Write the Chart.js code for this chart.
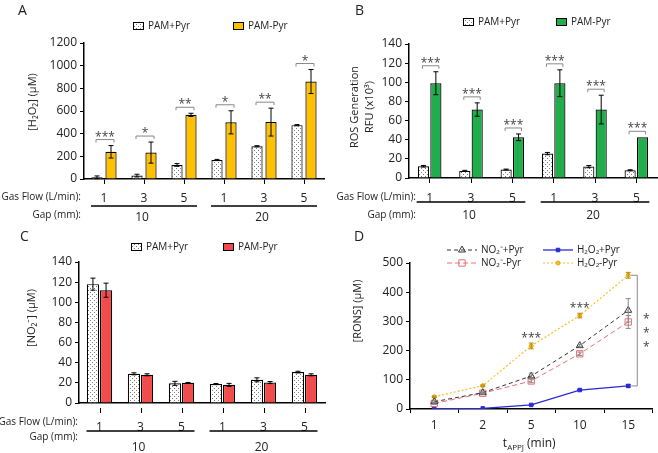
<!DOCTYPE html>
<html>
<head>
<meta charset="utf-8">
<script src="https://cdn.jsdelivr.net/npm/chart.js@4.4.0/dist/chart.umd.min.js"></script>
<style>
  html, body { margin: 0; padding: 0; background: #fff; }
  #wrap { position: relative; width: 658px; height: 453px; }
  canvas { position: absolute; }
  .tag { position: absolute; font: 14px 'Open Sans', sans-serif; color: #222; }
</style>
</head>
<body>
<div id="wrap">
  <canvas id="chartA" width="329" height="226" style="left:0;top:0"></canvas>
  <canvas id="chartB" width="329" height="226" style="left:329px;top:0"></canvas>
  <canvas id="chartC" width="329" height="227" style="left:0;top:226px"></canvas>
  <canvas id="chartD" width="329" height="227" style="left:329px;top:226px"></canvas>
  <div class="tag" style="left:18px;top:0">A</div>
  <div class="tag" style="left:355px;top:0">B</div>
  <div class="tag" style="left:20px;top:226px">C</div>
  <div class="tag" style="left:354px;top:226px">D</div>
</div>
<script>
// ---------------- DATA ----------------
const flowLabels = ["1", "3", "5", "1", "3", "5"];
const gapLabels = ["10", "20"];

// A: H2O2 (uM)
const h2o2WithPyr = [15, 30, 124, 168, 289, 475];
const h2o2WithPyrErr = [12, 12, 12, 5, 5, 5];
const h2o2NoPyr = [240, 233, 566, 500, 502, 860];
const h2o2NoPyrErr = [55, 93, 14, 102, 123, 106];
const h2o2Stars = ["***", "*", "**", "*", "**", "*"];

// B: ROS generation RFU (x10^3)
const rosWithPyr = [12.3, 7.4, 8.8, 25.5, 11.9, 8.1];
const rosWithPyrErr = [0.8, 0.6, 0.5, 1.2, 1.2, 0.5];
const rosNoPyr = [99, 71.5, 42.5, 99, 71.5, 42.5];
const rosNoPyrErr = [12, 7, 3.5, 14, 15, 0];
const rosStars = ["***", "***", "***", "***", "***", "***"];

// C: NO2- (uM)
const no2WithPyr = [118, 29, 19.5, 18.8, 23, 30.7];
const no2WithPyrErr = [6, 1, 2, 0.5, 2, 0.8];
const no2NoPyr = [112, 28, 20, 18, 20.3, 28];
const no2NoPyrErr = [7, 1, 0.4, 1.5, 1, 1];

// D: RONS vs treatment time
const timeLabels = ["1", "2", "5", "10", "15"];
const no2PlusPyrT = [25, 56, 113, 217, 338];
const no2PlusPyrTErr = [3, 3, 10, 4, 40];
const no2MinusPyrT = [19, 54, 96, 189, 298];
const no2MinusPyrTErr = [3, 3, 6, 6, 22];
const h2o2PlusPyrT = [1, 2, 14, 65, 79];
const h2o2PlusPyrTErr = [0, 0, 1, 2, 4];
const h2o2MinusPyrT = [42, 80, 216, 320, 458];
const h2o2MinusPyrTErr = [2, 2, 10, 8, 10];
const timeStars = ["", "", "***", "***", ""];

// ---------------- STYLE ----------------
const FONT = "'Open Sans', sans-serif";
const TEXT = "#222";
Chart.defaults.font.family = FONT;
Chart.defaults.color = TEXT;

function dotPattern() {
  const c = document.createElement("canvas");
  c.width = 4; c.height = 4;
  const g = c.getContext("2d");
  g.fillStyle = "#fff";
  g.fillRect(0, 0, 4, 4);
  g.fillStyle = "#7a7a7a";
  g.fillRect(0, 0, 1, 1);
  g.fillRect(2, 2, 1, 1);
  return g.createPattern(c, "repeat");
}
const dots = dotPattern();
const plainTick = (v) => String(v);

// ---------------- PLUGINS ----------------
const errorBars = {
  id: "errorBars",
  afterDatasetsDraw(chart) {
    const ctx = chart.ctx, y = chart.scales.y;
    chart.data.datasets.forEach((ds, i) => {
      if (!ds.errors) return;
      chart.getDatasetMeta(i).data.forEach((el, j) => {
        const e = ds.errors[j];
        if (!e) return;
        const top = y.getPixelForValue(ds.data[j] + e);
        const bot = y.getPixelForValue(ds.data[j] - e);
        ctx.save();
        ctx.strokeStyle = ds.errorColor || "#000";
        ctx.lineWidth = 1;
        ctx.beginPath();
        ctx.moveTo(el.x, top); ctx.lineTo(el.x, bot);
        ctx.moveTo(el.x - 2.5, top); ctx.lineTo(el.x + 2.5, top);
        ctx.moveTo(el.x - 2.5, bot); ctx.lineTo(el.x + 2.5, bot);
        ctx.stroke();
        ctx.restore();
      });
    });
  }
};

// brackets with stars between the two bars of a group
const sigBrackets = {
  id: "sigBrackets",
  afterDatasetsDraw(chart, args, opts) {
    if (!opts.labels) return;
    const ctx = chart.ctx, y = chart.scales.y;
    const [d0, d1] = chart.data.datasets;
    const m0 = chart.getDatasetMeta(0).data, m1 = chart.getDatasetMeta(1).data;
    opts.labels.forEach((lab, j) => {
      const top = Math.min(
        y.getPixelForValue(d0.data[j] + (d0.errors[j] || 0)),
        y.getPixelForValue(d1.data[j] + (d1.errors[j] || 0))
      );
      const by = top - 6;
      const x0 = m0[j].x - 1, x1 = m1[j].x + 3;
      ctx.save();
      ctx.strokeStyle = "#888";
      ctx.lineWidth = 1;
      ctx.beginPath();
      ctx.moveTo(x0, by + 3); ctx.lineTo(x0, by); ctx.lineTo(x1, by); ctx.lineTo(x1, by + 3);
      ctx.stroke();
      ctx.fillStyle = "#444";
      ctx.font = "12px " + FONT;
      ctx.textAlign = "center";
      ctx.textBaseline = "alphabetic";
      ctx.fillText(lab, (x0 + x1) / 2, by + 1);
      ctx.restore();
    });
  }
};

// legend with filled boxes for the bar panels
const boxLegend = {
  id: "boxLegend",
  afterDraw(chart, args, opts) {
    if (!opts.at) return;
    const ctx = chart.ctx;
    ctx.save();
    ctx.font = "10px " + FONT;
    ctx.textBaseline = "middle";
    chart.data.datasets.forEach((ds, i) => {
      const bx = opts.at[i], by = opts.y;
      ctx.fillStyle = ds.backgroundColor;
      ctx.fillRect(bx, by - 4, 11, 8);
      ctx.strokeStyle = "#000";
      ctx.lineWidth = 1;
      ctx.strokeRect(bx + 0.5, by - 3.5, 10, 7);
      ctx.fillStyle = TEXT;
      ctx.fillText(ds.label, bx + 15, by);
    });
    ctx.restore();
  }
};

// rotated y-axis title(s)
const yTitle = {
  id: "yTitle",
  afterDraw(chart, args, opts) {
    if (!opts.lines) return;
    const ctx = chart.ctx;
    ctx.save();
    ctx.font = "11px " + FONT;
    ctx.fillStyle = TEXT;
    ctx.textAlign = "center";
    ctx.textBaseline = "middle";
    opts.lines.forEach((t, k) => {
      ctx.save();
      ctx.translate(opts.x[k], opts.y);
      ctx.rotate(-Math.PI / 2);
      ctx.fillText(t, 0, 0);
      ctx.restore();
    });
    ctx.restore();
  }
};

// "Gas Flow" / "Gap" rows below the bar axes
const groupAxis = {
  id: "groupAxis",
  afterDraw(chart, args, o) {
    if (!o.flowY) return;
    const ctx = chart.ctx, x = chart.scales.x;
    ctx.save();
    ctx.fillStyle = TEXT;
    ctx.textBaseline = "middle";
    ctx.textAlign = "right";
    ctx.font = "10px " + FONT;
    ctx.fillText("Gas Flow (L/min):", o.right, o.flowY);
    ctx.fillText("Gap (mm):", o.right, o.gapY);
    ctx.font = "12px " + FONT;
    ctx.textAlign = "center";
    ctx.strokeStyle = "#000";
    ctx.lineWidth = 1.5;
    gapLabels.forEach((g, k) => {
      const a = x.getPixelForValue(k * 3) - 13;
      const b = x.getPixelForValue(k * 3 + 2) + 13;
      ctx.beginPath();
      ctx.moveTo(a, o.lineY); ctx.lineTo(b, o.lineY);
      ctx.stroke();
      ctx.fillText(g, x.getPixelForValue(k * 3 + 1) - 2, o.gapValY);
    });
    if (o.marks) {
      ctx.lineWidth = 1;
      flowLabels.forEach((f, j) => {
        const px = Math.round(x.getPixelForValue(j)) + 0.5;
        ctx.beginPath();
        ctx.moveTo(px, chart.chartArea.bottom + 5);
        ctx.lineTo(px, chart.chartArea.bottom + 10);
        ctx.stroke();
      });
    }
    ctx.restore();
  }
};

function barChart(id, c) {
  return new Chart(document.getElementById(id), {
    type: "bar",
    data: {
      labels: flowLabels,
      datasets: [
        { label: "PAM+Pyr", data: c.withPyr, errors: c.withPyrErr, backgroundColor: dots,
          borderColor: "#000", borderWidth: 1.2, categoryPercentage: c.cat, barPercentage: c.bar },
        { label: "PAM-Pyr", data: c.noPyr, errors: c.noPyrErr, backgroundColor: c.color,
          borderColor: "#000", borderWidth: 1.2, categoryPercentage: c.cat, barPercentage: c.bar }
      ]
    },
    options: {
      responsive: false,
      animation: false,
      layout: { padding: { top: c.top, right: c.padRight, bottom: 0, left: 0 } },
      plugins: {
        legend: { display: false },
        tooltip: { enabled: false },
        boxLegend: { at: c.legendAt, y: c.legendY },
        sigBrackets: { labels: c.stars },
        yTitle: c.title,
        groupAxis: c.group
      },
      scales: {
        x: {
          afterFit: (s) => { s.height = c.xHeight; },
          grid: { display: !c.group.marks, drawOnChartArea: false, offset: false, color: "#000", tickLength: 5 },
          border: { color: "#000", width: 1.5 },
          ticks: { font: { size: 12 }, padding: c.xPad, color: TEXT }
        },
        y: {
          min: 0, max: c.max,
          afterFit: (s) => { s.width = c.yWidth; },
          grid: { drawOnChartArea: false, color: "#000", tickLength: 4 },
          border: { color: "#000", width: 1.5 },
          ticks: { stepSize: c.step, font: { size: 12 }, padding: 3, color: TEXT, callback: plainTick }
        }
      }
    },
    plugins: [errorBars, sigBrackets, boxLegend, yTitle, groupAxis]
  });
}

barChart("chartA", {
  withPyr: h2o2WithPyr, withPyrErr: h2o2WithPyrErr, noPyr: h2o2NoPyr, noPyrErr: h2o2NoPyrErr,
  color: "#FFC000", stars: h2o2Stars, max: 1200, step: 200,
  cat: 0.7, bar: 0.8, top: 43, padRight: 5, xHeight: 47, yWidth: 84, xPad: 7,
  legendAt: [133, 233], legendY: 26,
  title: { lines: ["[H\u2082O\u2082] (\u00b5M)"], x: [33], y: 102 },
  group: { right: 81, flowY: 197, gapY: 215, lineY: 206, gapValY: 218 }
});

barChart("chartB", {
  withPyr: rosWithPyr, withPyrErr: rosWithPyrErr, noPyr: rosNoPyr, noPyrErr: rosNoPyrErr,
  color: "#1FAE4B", stars: rosStars, max: 140, step: 20,
  cat: 0.6, bar: 0.9, top: 44, padRight: 1, xHeight: 48, yWidth: 80, xPad: 8,
  legendAt: [134, 227], legendY: 22,
  title: { lines: ["ROS Generation", "RFU (x10\u00b3)"], x: [26, 41], y: 107 },
  group: { right: 87, flowY: 197, gapY: 215, lineY: 202, gapValY: 216 }
});

barChart("chartC", {
  withPyr: no2WithPyr, withPyrErr: no2WithPyrErr, noPyr: no2NoPyr, noPyrErr: no2NoPyrErr,
  color: "#F24B4B", stars: null, max: 140, step: 20,
  cat: 0.64, bar: 0.93, top: 36, padRight: 4, xHeight: 50, yWidth: 79, xPad: 12,
  legendAt: [131, 223], legendY: 21,
  title: { lines: ["[NO\u2082\u207b] (\u00b5M)"], x: [32], y: 92 },
  group: { right: 78, flowY: 196, gapY: 211, lineY: 205, gapValY: 222, marks: true }
});

// ---------------- PANEL D ----------------
const dNotes = {
  id: "dNotes",
  afterDraw(chart) {
    const ctx = chart.ctx, x = chart.scales.x, y = chart.scales.y;
    ctx.save();
    ctx.fillStyle = "#444";
    ctx.font = "12px " + FONT;
    ctx.textAlign = "center";
    timeStars.forEach((s, j) => {
      if (!s) return;
      const top = y.getPixelForValue(h2o2MinusPyrT[j] + h2o2MinusPyrTErr[j]);
      ctx.fillText(s, x.getPixelForValue(j), top - 1);
    });
    // bracket between H2O2-Pyr and H2O2+Pyr at the last time point
    const last = timeLabels.length - 1;
    const px = x.getPixelForValue(last);
    const yTop = y.getPixelForValue(h2o2MinusPyrT[last]);
    const yBot = y.getPixelForValue(h2o2PlusPyrT[last]);
    ctx.strokeStyle = "#888";
    ctx.lineWidth = 1;
    ctx.beginPath();
    ctx.moveTo(px + 3, yTop); ctx.lineTo(px + 9, yTop); ctx.lineTo(px + 9, yBot); ctx.lineTo(px + 3, yBot);
    ctx.stroke();
    const mid = (yTop + yBot) / 2;
    ctx.textBaseline = "middle";
    [-14, 0, 14].forEach((d) => ctx.fillText("*", px + 18, mid + d + 3));
    // x title with subscript
    ctx.fillStyle = TEXT;
    ctx.textAlign = "left";
    ctx.textBaseline = "alphabetic";
    const cx = x.getPixelForValue(2) - 2, by = 221;
    ctx.font = "12px " + FONT;
    const w1 = ctx.measureText("t").width, w3 = ctx.measureText(" (min)").width;
    ctx.font = "8px " + FONT;
    const w2 = ctx.measureText("APPJ").width;
    let sx = cx - (w1 + w2 + w3) / 2;
    ctx.font = "12px " + FONT;
    ctx.fillText("t", sx, by);
    ctx.font = "8px " + FONT;
    ctx.fillText("APPJ", sx + w1, by + 3);
    ctx.font = "12px " + FONT;
    ctx.fillText(" (min)", sx + w1 + w2, by);
    // legend
    const cols = [118, 214], rows = [24, 37];
    const place = [[0, 0], [0, 1], [1, 0], [1, 1]];
    ctx.font = "10px " + FONT;
    ctx.textBaseline = "middle";
    chart.data.datasets.forEach((ds, i) => {
      const lx = cols[place[i][0]], ly = rows[place[i][1]];
      ctx.save();
      ctx.strokeStyle = ds.borderColor;
      ctx.lineWidth = ds.borderWidth;
      ctx.setLineDash(ds.borderDash || []);
      ctx.beginPath();
      ctx.moveTo(lx, ly); ctx.lineTo(lx + 30, ly);
      ctx.stroke();
      ctx.setLineDash([]);
      ctx.fillStyle = ds.pointBackgroundColor;
      ctx.strokeStyle = ds.pointBorderColor;
      ctx.lineWidth = 1;
      Chart.helpers.drawPoint(ctx, { pointStyle: ds.pointStyle, radius: ds.pointRadius, rotation: 0, borderWidth: 1 }, lx + 15, ly);
      ctx.restore();
      ctx.fillStyle = TEXT;
      ctx.fillText(ds.label, lx + 34, ly);
    });
    // rotated y title
    ctx.save();
    ctx.font = "11px " + FONT;
    ctx.textAlign = "center";
    ctx.translate(29, 85);
    ctx.rotate(-Math.PI / 2);
    ctx.fillText("[RONS] (\u00b5M)", 0, 0);
    ctx.restore();
    ctx.restore();
  }
};

new Chart(document.getElementById("chartD"), {
  type: "line",
  data: {
    labels: timeLabels,
    datasets: [
      { label: "NO\u2082\u207b+Pyr", data: no2PlusPyrT, errors: no2PlusPyrTErr, errorColor: "#888",
        borderColor: "#333", borderWidth: 1, borderDash: [4, 3], tension: 0,
        pointStyle: "triangle", pointRadius: 4, pointBackgroundColor: "rgba(255,255,255,0)",
        pointBorderColor: "#333", pointBorderWidth: 1 },
      { label: "NO\u2082\u207b-Pyr", data: no2MinusPyrT, errors: no2MinusPyrTErr, errorColor: "#888",
        borderColor: "#E8707A", borderWidth: 1, borderDash: [5, 3], tension: 0,
        pointStyle: "rect", pointRadius: 4.5, pointBackgroundColor: "rgba(255,255,255,0)",
        pointBorderColor: "#E8707A", pointBorderWidth: 1 },
      { label: "H\u2082O\u2082+Pyr", data: h2o2PlusPyrT, errors: h2o2PlusPyrTErr, errorColor: "#2a2ad6",
        borderColor: "#2a2ad6", borderWidth: 1.3, tension: 0,
        pointStyle: "rect", pointRadius: 2.5, pointBackgroundColor: "#2a2ad6",
        pointBorderColor: "#2a2ad6", pointBorderWidth: 1 },
      { label: "H\u2082O\u2082-Pyr", data: h2o2MinusPyrT, errors: h2o2MinusPyrTErr, errorColor: "#b58a10",
        borderColor: "#F5BE2A", borderWidth: 1.2, borderDash: [2, 2], tension: 0,
        pointStyle: "circle", pointRadius: 2, pointBackgroundColor: "#F5BE2A",
        pointBorderColor: "#E0A800", pointBorderWidth: 1 }
    ]
  },
  options: {
    responsive: false,
    animation: false,
    layout: { padding: { top: 37, right: 5, bottom: 0, left: 0 } },
    plugins: { legend: { display: false }, tooltip: { enabled: false } },
    scales: {
      x: {
        offset: true,
        afterFit: (s) => { s.height = 44; },
        grid: { drawOnChartArea: false, offset: true, color: "#000", tickLength: 4 },
        border: { color: "#000", width: 1.5 },
        ticks: { font: { size: 12 }, padding: 5, color: TEXT }
      },
      y: {
        min: 0, max: 500,
        afterFit: (s) => { s.width = 81; },
        grid: { drawOnChartArea: false, color: "#000", tickLength: 4 },
        border: { color: "#000", width: 1.5 },
        ticks: { stepSize: 50, font: { size: 12 }, padding: 3, color: TEXT }
      }
    }
  },
  plugins: [errorBars, dNotes]
});
</script>
</body>
</html>
